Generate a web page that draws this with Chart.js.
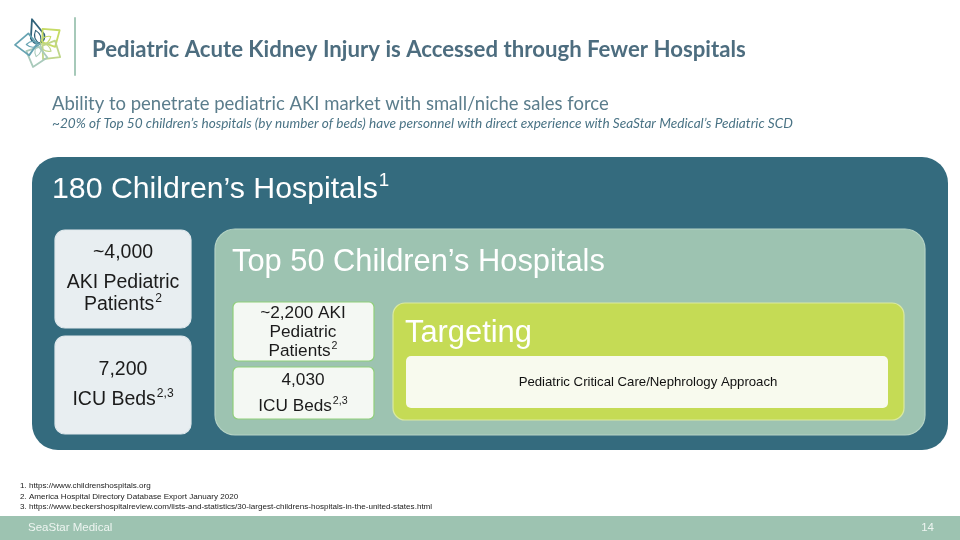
<!DOCTYPE html>
<html><head><meta charset="utf-8">
<script src="https://cdn.jsdelivr.net/npm/chart.js@4"></script>
<style>html,body{margin:0;padding:0;background:#fff;overflow:hidden}#wrap{width:960px;height:540px}</style>
</head>
<body><div id="wrap"><canvas id="c" width="960" height="540"></canvas></div>
<script>
// ---- content ----
const titleText = 'Pediatric Acute Kidney Injury is Accessed through Fewer Hospitals';
const subtitleText = 'Ability to penetrate pediatric AKI market with small/niche sales force';
const noteText = '~20% of Top 50 children’s hospitals (by number of beds) have personnel with direct experience with SeaStar Medical’s Pediatric SCD';
const groupLabels = ['180 Children’s Hospitals', 'Top 50 Children’s Hospitals', 'Targeting'];
const groupRefs = ['1', '', ''];
const akiPatients = ['~4,000', '~2,200'];
const icuBeds = ['7,200', '4,030'];
const approachText = 'Pediatric Critical Care/Nephrology Approach';
const footnotes = [
  '1. https://www.childrenshospitals.org',
  '2. America Hospital Directory Database Export January 2020',
  '3. https://www.beckershospitalreview.com/lists-and-statistics/30-largest-childrens-hospitals-in-the-united-states.html'
];
const footerLeft = 'SeaStar Medical';
const pageNumber = '14';

// ---- layout (slide units, 960 x 540) ----
const boxLayout = [
  {x0:32,  y0:157, x1:948, y1:450, r:26, fill:'#346b7e', stroke:null},
  {x0:55,  y0:230, x1:191, y1:328, r:10, fill:'#e8eef1', stroke:'#dfe8ec'},
  {x0:55,  y0:336, x1:191, y1:434, r:10, fill:'#e8eef1', stroke:'#dfe8ec'},
  {x0:215, y0:229, x1:925, y1:435, r:20, fill:'#9dc3b1', stroke:'#b5d3c5'},
  {x0:233, y0:302, x1:374, y1:361, r:5,  fill:'#f4f8f3', stroke:'#8fcf7a'},
  {x0:233, y0:367, x1:374, y1:419, r:5,  fill:'#f4f8f3', stroke:'#8fcf7a'},
  {x0:393, y0:303, x1:904, y1:420, r:12, fill:'#c5db55', stroke:'#dbe9a0'},
  {x0:406, y0:356, x1:888, y1:408, r:5,  fill:'#f8faee', stroke:null}
];
const logoPetals = [
  {a:-108, len:26, wid:7,  col:'#2f6179', drop:true},
  {a:-35,  len:24, wid:11, col:'#c6db66', drop:false},
  {a:33,   len:24, wid:11, col:'#bfd68a', drop:false},
  {a:107,  len:24, wid:11, col:'#a9cabb', drop:false},
  {a:178,  len:25, wid:11, col:'#66a3b2', drop:false}
];

const ARIAL = '"Liberation Sans", Arial, sans-serif';
const CAL = 'Lato, "Open Sans", sans-serif';

function fitSize(ctx, text, tpl, width){
  ctx.font = tpl(100);
  return 100 * width / ctx.measureText(text).width;
}

const slidePlugin = {
  id: 'slide',
  beforeDraw(chart){
    const ctx = chart.ctx;
    ctx.save(); ctx.fillStyle = '#ffffff'; ctx.fillRect(0,0,chart.width,chart.height); ctx.restore();
  },
  afterDatasetsDraw(chart){
    const ctx = chart.ctx, X = chart.scales.x, Y = chart.scales.y;
    const px = v => X.getPixelForValue(v), py = v => Y.getPixelForValue(v);
    ctx.save();

    // logo
    drawLogo(ctx, px, py);
    ctx.strokeStyle = '#a6c9b9'; ctx.lineWidth = 2;
    ctx.beginPath(); ctx.moveTo(px(75), py(18)); ctx.lineTo(px(75), py(75)); ctx.stroke();

    // headings
    ctx.textBaseline = 'middle'; ctx.textAlign = 'left';
    let s = fitSize(ctx, titleText, z => `bold ${z}px ${CAL}`, 654);
    ctx.font = `bold ${s}px ${CAL}`; ctx.fillStyle = '#4d6d7f';
    ctx.fillText(titleText, px(92), py(50));
    s = fitSize(ctx, subtitleText, z => `${z}px ${CAL}`, 557);
    ctx.font = `${s}px ${CAL}`; ctx.fillStyle = '#5b7d8c';
    ctx.fillText(subtitleText, px(52), py(104));
    s = fitSize(ctx, noteText, z => `italic ${z}px ${CAL}`, 741);
    ctx.font = `italic ${s}px ${CAL}`; ctx.fillStyle = '#4a7385';
    ctx.fillText(noteText, px(52), py(124));

    // boxes
    boxLayout.forEach(b => {
      ctx.beginPath();
      ctx.roundRect(px(b.x0), py(b.y0), px(b.x1)-px(b.x0), py(b.y1)-py(b.y0), b.r);
      ctx.fillStyle = b.fill; ctx.fill();
      if (b.stroke){ ctx.strokeStyle = b.stroke; ctx.lineWidth = 1.2; ctx.stroke(); }
    });

    // group headings
    const gPos = [[52,190,326],[232,262,373],[405,333,127]];
    groupLabels.forEach((t,i) => {
      const [gx,gy,gw] = gPos[i];
      const fs = fitSize(ctx, t, z => `${z}px ${ARIAL}`, gw);
      ctx.font = `${fs}px ${ARIAL}`; ctx.fillStyle = '#ffffff'; ctx.textAlign = 'left';
      ctx.fillText(t, px(gx), py(gy));
      if (groupRefs[i]){
        const w = ctx.measureText(t).width;
        ctx.font = `${fs*0.62}px ${ARIAL}`;
        ctx.fillText(groupRefs[i], px(gx)+w+1, py(gy)-fs*0.3);
      }
    });

    // stat boxes
    const textCol = '#1b1b1b';
    const lines = (cx, size, arr) => arr.forEach(([t, sup, y]) => drawCentered(ctx, t, sup, px(cx), py(y), size, textCol));
    lines(123, 19.5, [[akiPatients[0], '', 253], ['AKI Pediatric', '', 283], ['Patients', '2', 305]]);
    lines(123, 19.5, [[icuBeds[0], '', 370], ['ICU Beds', '2,3', 400]]);
    lines(303, 17.2, [[akiPatients[1] + ' AKI', '', 313], ['Pediatric', '', 332], ['Patients', '2', 351]]);
    lines(303, 17.2, [[icuBeds[1], '', 380], ['ICU Beds', '2,3', 406]]);

    ctx.font = `13.2px ${ARIAL}`; ctx.fillStyle = '#111'; ctx.textAlign = 'center';
    ctx.fillText(approachText, px(648), py(382));

    // footnotes
    ctx.textAlign = 'left'; ctx.fillStyle = '#222';
    s = fitSize(ctx, footnotes[2], z => `${z}px ${ARIAL}`, 413);
    ctx.font = `${s}px ${ARIAL}`;
    [486, 497, 507].forEach((y,i) => ctx.fillText(footnotes[i], px(20), py(y)));

    // footer
    ctx.fillStyle = '#9dc3b1';
    ctx.fillRect(px(0), py(516), px(960)-px(0), py(540)-py(516));
    ctx.fillStyle = '#eef5f1'; ctx.font = `11.5px ${ARIAL}`;
    ctx.fillText(footerLeft, px(28), py(528));
    ctx.textAlign = 'right';
    ctx.fillText(pageNumber, px(934), py(528));
    ctx.restore();
  }
};

function drawCentered(ctx, t, sup, cx, y, size, col){
  ctx.font = `${size}px ${ARIAL}`;
  const w = ctx.measureText(t).width;
  let sw = 0;
  if (sup){ ctx.font = `${size*0.62}px ${ARIAL}`; sw = ctx.measureText(sup).width + 1; }
  const x0 = cx - (w + sw)/2;
  ctx.fillStyle = col; ctx.textAlign = 'left';
  ctx.font = `${size}px ${ARIAL}`; ctx.fillText(t, x0, y);
  if (sup){ ctx.font = `${size*0.62}px ${ARIAL}`; ctx.fillText(sup, x0 + w + 1, y - size*0.3); }
}

function drawLogo(ctx, px, py){
  const cx = 40, cy = 44;
  ctx.lineJoin = 'round'; ctx.lineCap = 'round';
  logoPetals.forEach(p => {
    const r = p.a*Math.PI/180, ux = Math.cos(r), uy = Math.sin(r), nx = -uy, ny = ux;
    const tx = cx + ux*p.len, ty = cy + uy*p.len;
    ctx.strokeStyle = p.col; ctx.lineWidth = 1.8;
    ctx.beginPath();
    if (p.drop){
      const bx = cx + ux*8, by = cy + uy*8;
      ctx.moveTo(px(tx), py(ty));
      ctx.lineTo(px(bx + nx*p.wid), py(by + ny*p.wid));
      ctx.arc(px(bx), py(by), p.wid, Math.atan2(ny, nx), Math.atan2(-ny, -nx), false);
      ctx.closePath();
    } else {
      const mx = cx + ux*p.len*0.45, my = cy + uy*p.len*0.45;
      ctx.moveTo(px(cx + ux*3), py(cy + uy*3));
      ctx.lineTo(px(mx + nx*p.wid), py(my + ny*p.wid));
      ctx.lineTo(px(tx), py(ty));
      ctx.lineTo(px(mx - nx*p.wid), py(my - ny*p.wid));
      ctx.closePath();
    }
    ctx.stroke();
    // inner leaf
    const lx = cx + ux*p.len*0.55, ly = cy + uy*p.len*0.55;
    ctx.lineWidth = 1.1;
    ctx.beginPath();
    ctx.moveTo(px(cx), py(cy));
    ctx.quadraticCurveTo(px(cx + ux*p.len*0.28 + nx*6), py(cy + uy*p.len*0.28 + ny*6), px(lx), py(ly));
    ctx.quadraticCurveTo(px(cx + ux*p.len*0.28 - nx*6), py(cy + uy*p.len*0.28 - ny*6), px(cx), py(cy));
    ctx.stroke();
  });
}

new Chart(document.getElementById('c'), {
  type: 'scatter',
  data: { datasets: [{ data: [], pointRadius: 0 }] },
  options: {
    responsive: false, animation: false, devicePixelRatio: 1,
    layout: { padding: 0 },
    plugins: { legend: { display: false }, tooltip: { enabled: false } },
    scales: {
      x: { type: 'linear', min: 0, max: 960, display: false },
      y: { type: 'linear', min: 0, max: 540, reverse: true, display: false }
    }
  },
  plugins: [slidePlugin]
});
</script>
</body></html>
